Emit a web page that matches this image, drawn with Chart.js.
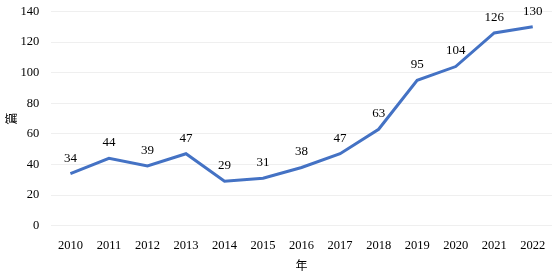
<!DOCTYPE html>
<html>
<head>
<meta charset="utf-8">
<script src="https://cdn.jsdelivr.net/npm/chart.js@4"></script>
<style>
  html, body { margin: 0; padding: 0; background: #fff; }
  #wrap { width: 552px; height: 275px; }
</style>
</head>
<body>
<div id="wrap"><canvas id="c"></canvas></div>
<script>
const years = ['2010','2011','2012','2013','2014','2015','2016','2017','2018','2019','2020','2021','2022'];
const counts = [34, 44, 39, 47, 29, 31, 38, 47, 63, 95, 104, 126, 130];
const yTicks = [0, 20, 40, 60, 80, 100, 120, 140];

const serif = "'Liberation Serif', 'Times New Roman', 'Noto Sans CJK SC', serif";

// value labels above each point
const valueLabels = {
  id: 'valueLabels',
  afterDatasetsDraw(chart) {
    const ctx = chart.ctx;
    const meta = chart.getDatasetMeta(0);
    ctx.save();
    ctx.font = '13px ' + serif;
    ctx.fillStyle = '#000';
    ctx.textAlign = 'center';
    ctx.textBaseline = 'bottom';
    meta.data.forEach((pt, i) => {
      ctx.fillText(counts[i], pt.x, pt.y - 9);
    });
    ctx.restore();
  }
};

new Chart(document.getElementById('c'), {
  type: 'line',
  data: {
    labels: years,
    datasets: [{
      data: counts,
      borderColor: '#4472C4',
      borderWidth: 3,
      pointRadius: 0,
      tension: 0,
      fill: false
    }]
  },
  options: {
    responsive: true,
    maintainAspectRatio: false,
    animation: false,
    layout: { padding: { top: 0, right: 0, left: 6, bottom: 1 } },
    plugins: {
      legend: { display: false },
      tooltip: { enabled: false }
    },
    scales: {
      x: {
        offset: true,
        grid: { display: false },
        border: { display: false },
        ticks: { color: '#000', font: { family: serif, size: 12.5 }, padding: 5, maxRotation: 0 },
        title: { display: true, text: '年', color: '#000', font: { family: serif, size: 12 }, padding: { top: 1, bottom: 0 } }
      },
      y: {
        min: 0,
        max: 140,
        afterBuildTicks(axis) { axis.ticks = yTicks.map(v => ({ value: v })); },
        grid: { color: '#efefef', drawTicks: true, tickLength: 8, tickColor: 'rgba(0,0,0,0)' },
        border: { display: false },
        ticks: { color: '#000', font: { family: serif, size: 12.5 }, padding: 4 },
        title: { display: true, text: '篇', color: '#000', font: { family: serif, size: 12 }, padding: { top: 0, bottom: -4 } }
      }
    }
  },
  plugins: [valueLabels]
});
</script>
</body>
</html>
